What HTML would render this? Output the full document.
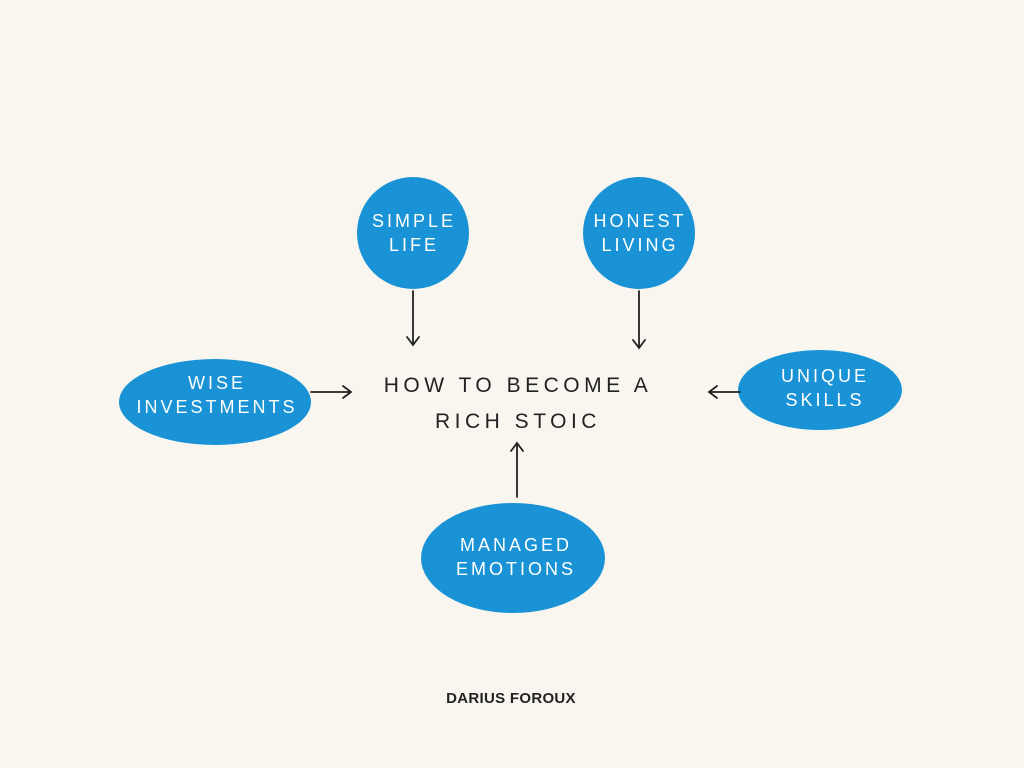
<!DOCTYPE html>
<html><head><meta charset="utf-8"><style>
html,body{margin:0;padding:0;background:#f8f6ef;}
svg{display:block}
text{font-family:"Liberation Sans",sans-serif;}
</style></head><body>
<svg width="1024" height="768" viewBox="0 0 1024 768" xmlns="http://www.w3.org/2000/svg">
<rect width="1024" height="768" fill="#f8f6ef"/>
<g fill="#1a93d6">
<circle cx="413" cy="233" r="56"/>
<circle cx="639" cy="233" r="56"/>
<ellipse cx="215" cy="402" rx="96" ry="43"/>
<ellipse cx="820" cy="390" rx="82" ry="40"/>
<ellipse cx="513" cy="558" rx="92" ry="55"/>
</g>
<g fill="#fff" font-size="18" text-anchor="middle" letter-spacing="3">
<text x="414" y="227">SIMPLE</text><text x="414" y="251">LIFE</text>
<text x="640" y="227">HONEST</text><text x="640" y="251">LIVING</text>
<text x="217" y="389">WISE</text><text x="217" y="413">INVESTMENTS</text>
<text x="825" y="382">UNIQUE</text><text x="825" y="406">SKILLS</text>
<text x="516" y="551">MANAGED</text><text x="516" y="575">EMOTIONS</text>
</g>
<g fill="#222" font-size="21" text-anchor="middle" letter-spacing="4.5">
<text x="518" y="392">HOW TO BECOME A</text>
<text x="518" y="428">RICH STOIC</text>
</g>
<g stroke="#222" stroke-width="1.8" fill="none" stroke-linecap="round">
<path d="M413 291 V345 M407 337 L413 345 L419 337"/>
<path d="M639 291 V348 M633 340 L639 348 L645 340"/>
<path d="M311 392 H351 M343 386 L351 392 L343 398"/>
<path d="M740 392 H709 M717 386 L709 392 L717 398"/>
<path d="M517 497 V443 M511 451 L517 443 L523 451"/>
</g>
<text x="511" y="703" font-size="15" font-weight="bold" fill="#222" text-anchor="middle" letter-spacing="0.3">DARIUS FOROUX</text>
</svg>
</body></html>
